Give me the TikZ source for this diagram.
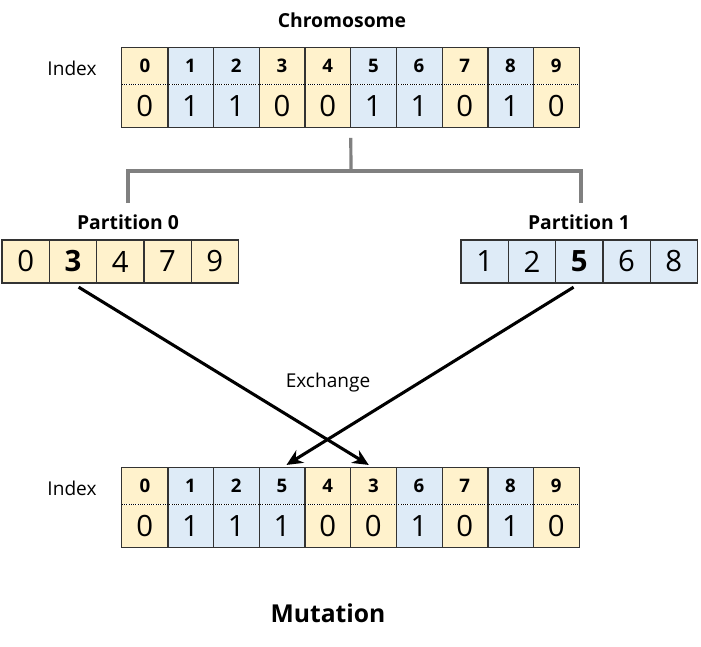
\documentclass[tikz,border=0pt]{standalone}
\usepackage{fontspec}
\setmainfont{Open Sans}
\usepackage{xcolor}
\usepackage{tikz}
\usetikzlibrary{arrows.meta,positioning}

\definecolor{geneyellow}{HTML}{FFF2CC}
\definecolor{geneblue}{HTML}{DEEBF7}
\definecolor{framegray}{HTML}{333333}
\definecolor{forkgray}{HTML}{808080}

\tikzset{
  gene0/.style={fill=geneyellow},
  gene1/.style={fill=geneblue},
  idxcell/.style={minimum width=34.3pt, minimum height=27pt, inner sep=0pt,
    font=\fontsize{14}{15}\selectfont\bfseries},
  valcell/.style={minimum width=34.3pt, minimum height=32.25pt, inner sep=0pt,
    font=\fontsize{22}{24}\selectfont},
  partcell/.style={minimum width=35.5pt, minimum height=32.25pt, inner sep=0pt,
    draw=framegray, line width=1pt, font=\fontsize{22}{24}\selectfont},
  cellframe/.style={draw=framegray, line width=1pt},
  indexdots/.style={black, line width=0.7pt, densely dotted},
  fork/.style={forkgray, line width=2.4pt},
  swaparrow/.style={-{Stealth[length=12pt,width=11pt]}, line width=2.3pt,
    shorten <=5pt, shorten >=4pt},
  label/.style={anchor=base, font=\fontsize{14.3}{16}\selectfont},
  title/.style={anchor=base, font=\fontsize{14.5}{16}\selectfont\bfseries}
}

\begin{document}
\begin{tikzpicture}[x=0.75pt, y=-0.75pt]
  \useasboundingbox (0,0) rectangle (701,647);

  % Chromosome before
  \node[title] (chromtitle) at (342,27) {Chromosome};
  \node[label] (topindex) at (72,75) {Index};
  \foreach \i/\b in {0/0,1/1,2/1,3/0,4/0,5/1,6/1,7/0,8/1,9/0} {
    \node[idxcell, gene\b] (top-i\i) at ({122+45.7*(\i+0.5)},66) {\i};
    \node[valcell, gene\b, below=0pt of top-i\i] (top-v\i) {\b};
  }
  \draw[cellframe] (top-i0.north west) rectangle (top-v9.south east);
  \foreach \i in {0,...,8}
    \draw[cellframe] (top-i\i.north east) -- (top-v\i.south east);
  \draw[indexdots] (top-i0.south west) -- (top-i9.south east);

  % Partitions
  \node[title] (p0title) at (128,229) {Partition 0};
  \node[title] (p1title) at (579,229) {Partition 1};
  \foreach \g [count=\i from 0] in {0,\textbf{3},4,7,9}
    \node[partcell, gene0] (p0-\i) at ({2+47.3*(\i+0.5)},261.5) {\g};
  \foreach \g [count=\i from 0] in {1,2,\textbf{5},6,8}
    \node[partcell, gene1] (p1-\i) at ({461+47.3*(\i+0.5)},261.5) {\g};

  % Split into partitions
  \coordinate (forkpt) at (351,171);
  \coordinate (p0end) at (128,203);
  \coordinate (p1end) at (581,203);
  \draw[fork] (top-v4.south east) ++(0,10) -- (forkpt);
  \draw[fork] (p0end) |- (forkpt) -| (p1end);

  % Exchange of the two genes
  \node[label] (exchange) at (328,387) {Exchange};
  \foreach \i/\g/\b in {0/0/0,1/1/1,2/2/1,3/5/1,4/4/0,5/3/0,6/6/1,7/7/0,8/8/1,9/9/0} {
    \node[idxcell, gene\b] (bot-i\i) at ({122+45.7*(\i+0.5)},486) {\g};
    \node[valcell, gene\b, below=0pt of bot-i\i] (bot-v\i) {\b};
  }
  \draw[cellframe] (bot-i0.north west) rectangle (bot-v9.south east);
  \foreach \i in {0,...,8}
    \draw[cellframe] (bot-i\i.north east) -- (bot-v\i.south east);
  \draw[indexdots] (bot-i0.south west) -- (bot-i9.south east);
  \node[label] (botindex) at (72,495) {Index};

  \draw[swaparrow] (p0-1.south) -- (bot-i5.north);
  \draw[swaparrow] (p1-2.south) -- (bot-i3.north);

  % Caption
  \node[anchor=base, font=\fontsize{18.5}{20}\selectfont\bfseries] (caption) at (328,622) {Mutation};
\end{tikzpicture}
\end{document}
